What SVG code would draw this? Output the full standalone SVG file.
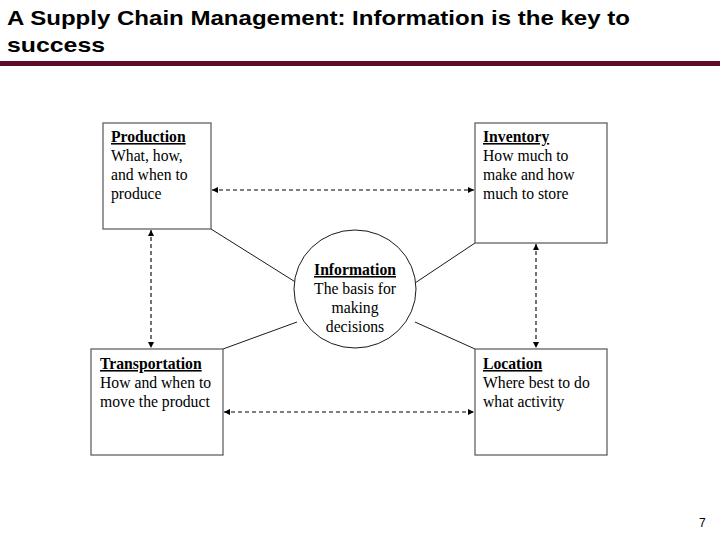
<svg xmlns="http://www.w3.org/2000/svg" width="720" height="540" viewBox="0 0 720 540">
<defs>
<marker id="ah" viewBox="0 0 10 10" refX="10" refY="5" markerWidth="7" markerHeight="6" orient="auto-start-reverse" markerUnits="userSpaceOnUse">
<path d="M0,0 L10,5 L0,10 z" fill="#000"/>
</marker>
<style>
.title{font-family:"Liberation Sans",Arial,sans-serif;font-weight:bold;font-size:21px;fill:#000}
.box{fill:#fff;stroke:#555;stroke-width:1.2}
.t{font-family:"Liberation Serif","Times New Roman",serif;font-size:15.7px;fill:#000}
.h{font-weight:bold;text-decoration:underline}
.dash{stroke:#000;stroke-width:1.1;stroke-dasharray:4 3;fill:none}
.solid{stroke:#000;stroke-width:0.9;fill:none}
</style>
</defs>
<rect width="720" height="540" fill="#fff"/>
<text class="title" x="7" y="25" textLength="623" lengthAdjust="spacingAndGlyphs">A Supply Chain Management: Information is the key to</text>
<text class="title" x="7" y="52" textLength="98" lengthAdjust="spacingAndGlyphs">success</text>
<rect x="0" y="61" width="720" height="5" fill="#5e0b2c"/>
<g id="connectors">
<line class="dash" x1="212" y1="190" x2="474" y2="190" marker-start="url(#ah)" marker-end="url(#ah)"/>
<line class="dash" x1="224" y1="412" x2="474" y2="412" marker-start="url(#ah)" marker-end="url(#ah)"/>
<line class="dash" x1="151" y1="230" x2="151" y2="348" marker-start="url(#ah)" marker-end="url(#ah)"/>
<line class="dash" x1="536" y1="244" x2="536" y2="348" marker-start="url(#ah)" marker-end="url(#ah)"/>
<line class="solid" x1="211" y1="229" x2="297" y2="283"/>
<line class="solid" x1="475" y1="243" x2="415" y2="283"/>
<line class="solid" x1="223" y1="349" x2="297" y2="322"/>
<line class="solid" x1="475" y1="349" x2="415" y2="322"/>
</g>
<g id="production">
<rect class="box" x="103" y="123" width="108" height="106"/>
<text class="t" x="111" y="142"><tspan class="h">Production</tspan><tspan x="111" dy="19">What, how,</tspan><tspan x="111" dy="19">and when to</tspan><tspan x="111" dy="19">produce</tspan></text>
</g>
<g id="inventory">
<rect class="box" x="475" y="123" width="132" height="120"/>
<text class="t" x="483" y="142"><tspan class="h">Inventory</tspan><tspan x="483" dy="19">How much to</tspan><tspan x="483" dy="19">make and how</tspan><tspan x="483" dy="19">much to store</tspan></text>
</g>
<g id="information">
<ellipse cx="355" cy="289" rx="61" ry="59" fill="#fff" stroke="#000" stroke-width="0.9"/>
<text class="t" x="355" y="275" text-anchor="middle"><tspan class="h">Information</tspan><tspan x="355" dy="19">The basis for</tspan><tspan x="355" dy="19">making</tspan><tspan x="355" dy="19">decisions</tspan></text>
</g>
<g id="transportation">
<rect class="box" x="91" y="349" width="132" height="106"/>
<text class="t" x="100" y="369"><tspan class="h">Transportation</tspan><tspan x="100" dy="19">How and when to</tspan><tspan x="100" dy="19">move the product</tspan></text>
</g>
<g id="location">
<rect class="box" x="475" y="349" width="132" height="106"/>
<text class="t" x="483" y="369"><tspan class="h">Location</tspan><tspan x="483" dy="19">Where best to do</tspan><tspan x="483" dy="19">what activity</tspan></text>
</g>
<text x="699" y="527" font-family="'Liberation Sans',Arial,sans-serif" font-size="12" fill="#000">7</text>
</svg>
